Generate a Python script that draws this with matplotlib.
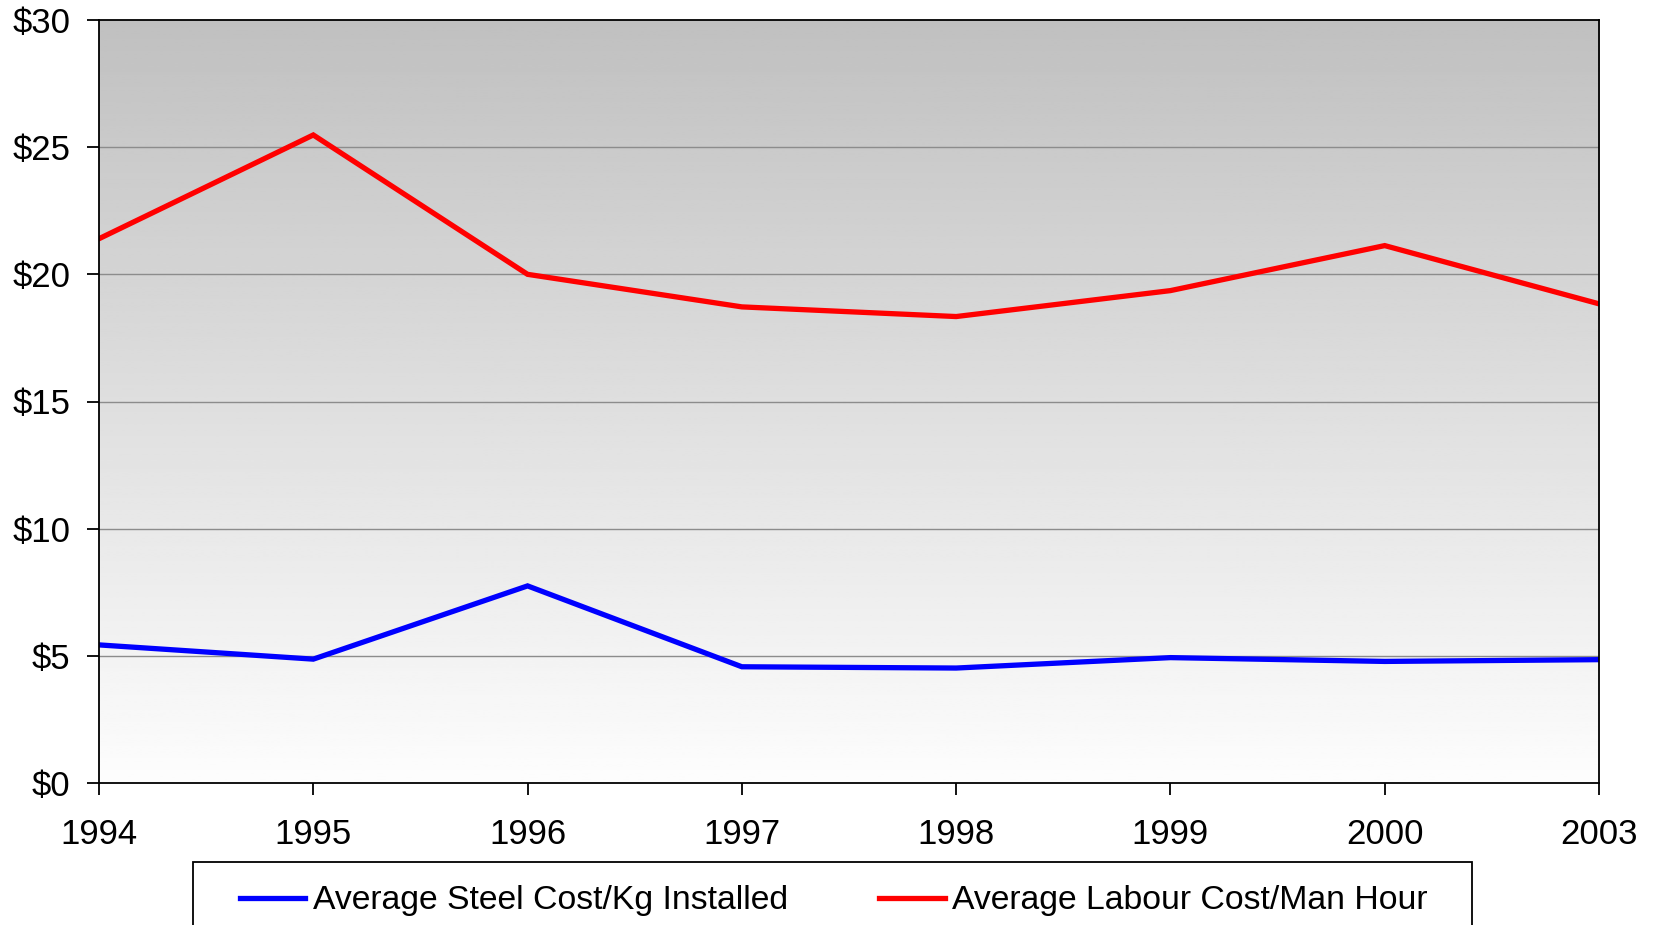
import numpy as np
import matplotlib
matplotlib.use("Agg")
from matplotlib import pyplot as plt
from matplotlib.patches import Rectangle

plt.rcParams['font.family'] = ['Liberation Sans', 'DejaVu Sans']

years = ['1994', '1995', '1996', '1997', '1998', '1999', '2000', '2003']
steel_cost = [5.43, 4.87, 7.75, 4.57, 4.52, 4.93, 4.78, 4.85]
labour_cost = [21.4, 25.48, 20.0, 18.72, 18.34, 19.36, 21.13, 18.84]
y_ticks = [0, 5, 10, 15, 20, 25, 30]
y_labels = ['$0', '$5', '$10', '$15', '$20', '$25', '$30']

W, H = 1654, 925
fig = plt.figure(figsize=(W / 100, H / 100), dpi=100)
ax = fig.add_axes([99 / W, (H - 783) / H, 1500 / W, 763 / H])

x = np.arange(len(years))
ax.set_xlim(0, len(years) - 1)
ax.set_ylim(0, 30)

# grey-to-white vertical gradient behind the plot
grad = np.linspace(192, 253, 256)[:, None] / 255.0
grad = np.repeat(grad, 2, axis=1)
ax.imshow(grad, cmap='gray', vmin=0, vmax=1, aspect='auto',
          extent=[0, 1, 0, 1], transform=ax.transAxes, zorder=0, origin='upper')

for v in y_ticks[1:-1]:
    ax.axhline(v, color='#8c8c8c', lw=1.0, zorder=1)

ax.plot(x, steel_cost, color='#0000ff', lw=3.8, zorder=3,
        label='Average Steel Cost/Kg Installed', solid_joinstyle='miter')
ax.plot(x, labour_cost, color='#ff0000', lw=3.8, zorder=3,
        label='Average Labour Cost/Man Hour', solid_joinstyle='miter')

ax.set_xticks(x)
ax.set_xticklabels(years)
ax.set_yticks(y_ticks)
ax.set_yticklabels(y_labels)
ax.tick_params(axis='both', direction='out', length=8.5, width=1.3,
               color='black', labelsize=25)
ax.tick_params(axis='y', pad=12)
ax.tick_params(axis='x', pad=17)
for s in ax.spines.values():
    s.set_linewidth(1.3)
    s.set_color('black')
    s.set_zorder(4)

# legend box runs off the bottom of the figure
fig.add_artist(Rectangle((193 / W, (H - 940) / H), (1472 - 193) / W, 78 / H,
                         transform=fig.transFigure, facecolor='white',
                         edgecolor='black', lw=1.3, clip_on=False))
leg = fig.legend(loc='center left', bbox_to_anchor=(240 / W, (H - 901) / H),
                 ncol=2, frameon=False, fontsize=24.3, borderpad=0,
                 borderaxespad=0, handlelength=1.93, handletextpad=0.22,
                 columnspacing=2.72)
for line in leg.get_lines():
    line.set_linewidth(3.8)

fig.savefig('out.png', dpi=100)
